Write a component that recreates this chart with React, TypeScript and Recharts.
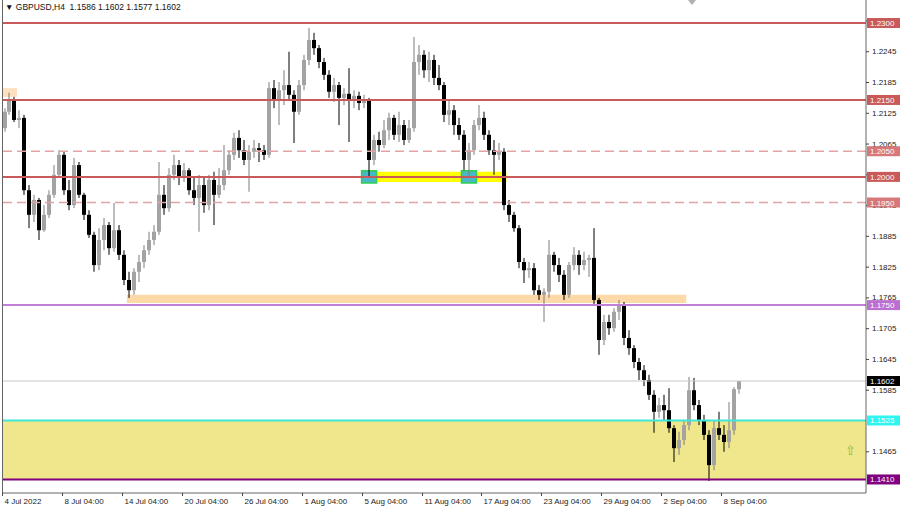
import { ComposedChart, Bar, XAxis, YAxis, ReferenceLine, ReferenceArea } from 'recharts';

// GBPUSD, one candle per two H4 bars, 4 Jul – 8 Sep 2022
const open = [
  1.2095, 1.2127, 1.2150, 1.2111, 1.2115, 1.1974, 1.1926, 1.1955, 1.1896, 1.1926,
  1.1965, 1.2004, 1.2043, 1.1974, 1.1945, 1.2023, 1.1965, 1.1926, 1.1887, 1.1828,
  1.1877, 1.1906, 1.1861, 1.1896, 1.1848, 1.1799, 1.1779, 1.1815, 1.1834, 1.1857,
  1.1877, 1.1893, 1.1965, 1.1939, 1.2004, 1.2023, 1.1998, 1.2013, 1.1974, 1.1959,
  1.1984, 1.1945, 1.1994, 1.1965, 1.1984, 1.2013, 1.2043, 1.2076, 1.2052, 1.2033,
  1.2049, 1.2056, 1.2052, 1.2043, 1.2173, 1.2150, 1.2169, 1.2179, 1.2160, 1.2127,
  1.2179, 1.2228, 1.2267, 1.2251, 1.2224, 1.2199, 1.2166, 1.2179, 1.2154, 1.2162,
  1.2150, 1.2158, 1.2144, 1.2150, 1.2033, 1.2072, 1.2062, 1.2091, 1.2115, 1.2082,
  1.2101, 1.2072, 1.2095, 1.2224, 1.2238, 1.2208, 1.2228, 1.2193, 1.2179, 1.2121,
  1.2130, 1.2101, 1.2082, 1.2033, 1.2052, 1.2101, 1.2115, 1.2082, 1.2052, 1.2043,
  1.2049, 1.1945, 1.1926, 1.1900, 1.1834, 1.1818, 1.1822, 1.1779, 1.1770, 1.1776,
  1.1848, 1.1828, 1.1809, 1.1770, 1.1828, 1.1848, 1.1828, 1.1838, 1.1842, 1.1760,
  1.1682, 1.1717, 1.1705, 1.1737, 1.1750, 1.1686, 1.1666, 1.1639, 1.1623, 1.1604,
  1.1575, 1.1542, 1.1555, 1.1545, 1.1510, 1.1471, 1.1487, 1.1516, 1.1584, 1.1555,
  1.1526, 1.1497, 1.1438, 1.1510, 1.1497, 1.1483, 1.1506, 1.1586,
];
const high = [
  1.2134, 1.2164, 1.2156, 1.2130, 1.2121, 1.1984, 1.1965, 1.1959, 1.1945, 1.1974,
  1.2023, 1.2052, 1.2049, 1.1994, 1.2037, 1.2029, 1.1969, 1.1935, 1.1893, 1.1900,
  1.1920, 1.1912, 1.1949, 1.1906, 1.1857, 1.1815, 1.1822, 1.1848, 1.1867, 1.1893,
  1.1906, 1.2029, 1.1984, 1.2017, 1.2043, 1.2033, 1.2027, 1.2017, 1.1998, 1.2004,
  1.1998, 1.2004, 1.2010, 1.2017, 1.2062, 1.2052, 1.2086, 1.2091, 1.2072, 1.2062,
  1.2072, 1.2066, 1.2062, 1.2185, 1.2189, 1.2185, 1.2208, 1.2244, 1.2169, 1.2189,
  1.2238, 1.2290, 1.2281, 1.2257, 1.2232, 1.2208, 1.2193, 1.2185, 1.2173, 1.2212,
  1.2169, 1.2166, 1.2160, 1.2154, 1.2082, 1.2088, 1.2111, 1.2125, 1.2121, 1.2127,
  1.2111, 1.2111, 1.2273, 1.2257, 1.2247, 1.2244, 1.2238, 1.2218, 1.2185, 1.2150,
  1.2140, 1.2115, 1.2091, 1.2066, 1.2111, 1.2140, 1.2127, 1.2091, 1.2072, 1.2066,
  1.2056, 1.1955, 1.1932, 1.1906, 1.1842, 1.1834, 1.1832, 1.1789, 1.1783, 1.1877,
  1.1854, 1.1842, 1.1818, 1.1834, 1.1863, 1.1857, 1.1854, 1.1848, 1.1900, 1.1764,
  1.1731, 1.1731, 1.1744, 1.1760, 1.1756, 1.1701, 1.1672, 1.1647, 1.1633, 1.1614,
  1.1584, 1.1569, 1.1575, 1.1588, 1.1516, 1.1503, 1.1526, 1.1610, 1.1608, 1.1565,
  1.1536, 1.1506, 1.1526, 1.1542, 1.1516, 1.1561, 1.1590, 1.1602,
];
const low = [
  1.2088, 1.2121, 1.2107, 1.2095, 1.1965, 1.1900, 1.1912, 1.1877, 1.1893, 1.1920,
  1.1959, 1.1998, 1.1965, 1.1935, 1.1939, 1.1959, 1.1916, 1.1881, 1.1815, 1.1818,
  1.1857, 1.1848, 1.1854, 1.1838, 1.1789, 1.1764, 1.1770, 1.1795, 1.1822, 1.1848,
  1.1867, 1.1887, 1.1926, 1.1932, 1.1994, 1.1984, 1.1990, 1.1965, 1.1945, 1.1893,
  1.1930, 1.1935, 1.1906, 1.1959, 1.1974, 1.2004, 1.2033, 1.2037, 1.2023, 1.1971,
  1.2037, 1.2029, 1.2033, 1.2037, 1.2134, 1.2101, 1.2140, 1.2150, 1.2066, 1.2121,
  1.2169, 1.2218, 1.2238, 1.2212, 1.2189, 1.2154, 1.2146, 1.2101, 1.2140, 1.2068,
  1.2134, 1.2130, 1.2134, 1.2000, 1.2023, 1.2049, 1.2056, 1.2072, 1.2072, 1.2068,
  1.2062, 1.2066, 1.2088, 1.2199, 1.2193, 1.2185, 1.2179, 1.2169, 1.2107, 1.2101,
  1.2082, 1.2072, 1.2013, 1.2001, 1.2043, 1.2091, 1.2072, 1.2043, 1.2004, 1.2033,
  1.1935, 1.1912, 1.1893, 1.1822, 1.1793, 1.1803, 1.1770, 1.1760, 1.1717, 1.1764,
  1.1815, 1.1795, 1.1760, 1.1764, 1.1818, 1.1809, 1.1818, 1.1805, 1.1750, 1.1653,
  1.1672, 1.1692, 1.1698, 1.1721, 1.1672, 1.1653, 1.1627, 1.1604, 1.1592, 1.1565,
  1.1501, 1.1530, 1.1526, 1.1501, 1.1444, 1.1458, 1.1477, 1.1506, 1.1545, 1.1516,
  1.1487, 1.1407, 1.1428, 1.1487, 1.1464, 1.1471, 1.1497, 1.1577,
];
const close = [
  1.2127, 1.2150, 1.2111, 1.2115, 1.1974, 1.1926, 1.1955, 1.1896, 1.1926, 1.1965,
  1.2004, 1.2043, 1.1974, 1.1945, 1.2023, 1.1965, 1.1926, 1.1887, 1.1828, 1.1877,
  1.1906, 1.1861, 1.1896, 1.1848, 1.1799, 1.1779, 1.1815, 1.1834, 1.1857, 1.1877,
  1.1893, 1.1965, 1.1939, 1.2004, 1.2023, 1.1998, 1.2013, 1.1974, 1.1959, 1.1984,
  1.1945, 1.1994, 1.1965, 1.1984, 1.2013, 1.2043, 1.2076, 1.2052, 1.2033, 1.2049,
  1.2056, 1.2052, 1.2043, 1.2173, 1.2150, 1.2169, 1.2179, 1.2160, 1.2127, 1.2179,
  1.2228, 1.2267, 1.2251, 1.2224, 1.2199, 1.2166, 1.2179, 1.2154, 1.2162, 1.2150,
  1.2158, 1.2144, 1.2150, 1.2033, 1.2072, 1.2062, 1.2091, 1.2115, 1.2082, 1.2101,
  1.2072, 1.2095, 1.2224, 1.2238, 1.2208, 1.2228, 1.2193, 1.2179, 1.2121, 1.2130,
  1.2101, 1.2082, 1.2033, 1.2052, 1.2101, 1.2115, 1.2082, 1.2052, 1.2043, 1.2049,
  1.1945, 1.1926, 1.1900, 1.1834, 1.1818, 1.1822, 1.1779, 1.1770, 1.1776, 1.1848,
  1.1828, 1.1809, 1.1770, 1.1828, 1.1848, 1.1828, 1.1838, 1.1842, 1.1760, 1.1682,
  1.1717, 1.1705, 1.1737, 1.1750, 1.1686, 1.1666, 1.1639, 1.1623, 1.1604, 1.1575,
  1.1542, 1.1555, 1.1545, 1.1510, 1.1471, 1.1487, 1.1516, 1.1584, 1.1555, 1.1526,
  1.1497, 1.1438, 1.1510, 1.1497, 1.1483, 1.1506, 1.1586, 1.1602,
];

const dateLabels = [
  '4 Jul 2022', '8 Jul 04:00', '14 Jul 04:00', '20 Jul 04:00', '26 Jul 04:00', '1 Aug 04:00',
  '5 Aug 04:00', '11 Aug 04:00', '17 Aug 04:00', '23 Aug 04:00', '29 Aug 04:00', '2 Sep 04:00',
  '8 Sep 04:00',
];
const priceTicks = [
  1.2305, 1.2245, 1.2185, 1.2125, 1.2065, 1.2005, 1.1945, 1.1885, 1.1825, 1.1765,
  1.1705, 1.1645, 1.1585, 1.1465,
];
const solidLevels = [1.23, 1.215, 1.2];
const dashedLevels = [1.205, 1.195];
const supportLevel = 1.175;
const zoneTop = 1.1525;
const zoneBottom = 1.141;
const lastPrice = 1.1602;
const tagValues = [1.23, 1.215, 1.205, 1.2, 1.195, 1.175, 1.1602, 1.1525, 1.141];

const SLOTS = 173;
const LABEL_EVERY = 12;

const RED = '#c85a5a';
const tagColors: Record<string, { bg: string; fg: string }> = {
  '1.2300': { bg: RED, fg: '#fff' },
  '1.2150': { bg: RED, fg: '#fff' },
  '1.2050': { bg: '#d77878', fg: '#fff' },
  '1.2000': { bg: RED, fg: '#fff' },
  '1.1950': { bg: '#d77878', fg: '#fff' },
  '1.1750': { bg: '#bb6fd0', fg: '#fff' },
  '1.1602': { bg: '#000', fg: '#fff' },
  '1.1525': { bg: '#2ff5ee', fg: '#fff' },
  '1.1410': { bg: '#800080', fg: '#fff' },
};

const rows = Array.from({ length: SLOTS }, (_, i) =>
  i < close.length
    ? { i, o: open[i], h: high[i], l: low[i], c: close[i], range: [low[i], high[i]] }
    : { i }
);

function Candle(props: any) {
  const { x, y, width, height, payload } = props;
  if (!payload || payload.c == null || !isFinite(y) || !isFinite(height)) return null;
  const { o, h, l, c } = payload;
  const top = Math.min(y, y + height);
  const bottom = Math.max(y, y + height);
  const k = h > l ? (bottom - top) / (h - l) : 0;
  const py = (v: number) => top + (h - v) * k;
  const left = Math.round(x + width / 2 - 2);
  const up = c >= o;
  const bt = py(Math.max(o, c));
  const bb = py(Math.min(o, c));
  return (
    <g>
      <line x1={left + 2} x2={left + 2} y1={top} y2={bottom} stroke={up ? '#7d7d7d' : '#000'} strokeWidth={1} />
      <rect x={left} y={bt} width={4} height={Math.max(1, bb - bt)} fill={up ? '#a3a3a3' : '#000'} />
    </g>
  );
}

function DateTick(props: any) {
  const { x, y, payload } = props;
  const i = Number(payload.value);
  if (i % LABEL_EVERY !== 0 || i / LABEL_EVERY >= dateLabels.length) return null;
  const tx = Math.round(x - 2.5) + 0.5;
  const axisY = y - 5;
  return (
    <g>
      <line x1={tx} x2={tx} y1={axisY} y2={axisY + 3} stroke="#444" />
      <text x={tx + 2} y={axisY + 11} fontSize={8} fill="#222" textAnchor="start">
        {dateLabels[i / LABEL_EVERY]}
      </text>
    </g>
  );
}

function PriceTick(props: any) {
  const { x, y, payload } = props;
  const label = Number(payload.value).toFixed(4);
  const axisX = x - 6;
  const tag = tagColors[label];
  if (tag) {
    return (
      <g>
        <rect x={axisX + 1} y={y - 5} width={34} height={10} fill={tag.bg} />
        <text x={axisX + 4} y={y + 3} fontSize={8} fill={tag.fg} textAnchor="start">{label}</text>
      </g>
    );
  }
  return (
    <g>
      <line x1={axisX} x2={axisX + 3} y1={y + 0.5} y2={y + 0.5} stroke="#444" />
      <text x={axisX + 6} y={y + 3} fontSize={8} fill="#222" textAnchor="start">{label}</text>
    </g>
  );
}

export default function App() {
  return (
    <div
      style={{
        position: 'absolute', left: 0, top: 0, width: 900, height: 507, background: '#fff',
        fontFamily: '"Liberation Sans", Arial, sans-serif',
      }}
    >
      <ComposedChart
        width={900}
        height={507}
        data={rows}
        margin={{ top: 0, right: 0, bottom: 0, left: 2 }}
        barCategoryGap={0}
      >
        <XAxis
          dataKey="i"
          type="category"
          interval={0}
          tick={<DateTick />}
          tickLine={false}
          tickSize={3}
          tickMargin={2}
          height={14}
          axisLine={{ stroke: '#666' }}
        />
        <YAxis
          orientation="right"
          type="number"
          width={34}
          domain={[1.13836, 1.23449]}
          allowDataOverflow
          ticks={[...priceTicks, ...tagValues]}
          interval={0}
          tick={<PriceTick />}
          tickLine={false}
          tickSize={3}
          tickMargin={3}
          axisLine={{ stroke: '#666' }}
        />

        <ReferenceArea
          y1={zoneBottom}
          y2={zoneTop}
          fill="#f0e68c"
          fillOpacity={1}
          stroke="none"
          label={{ value: '⇧', position: 'insideRight', offset: 10, fill: '#7cc242', fontSize: 13 }}
        />
        <ReferenceArea x1={25} x2={136} y1={1.1754} y2={1.1770} fill="#fdd9a8" fillOpacity={1} stroke="none" />
        <ReferenceArea x1={0} x2={2} y1={1.2156} y2={1.2173} fill="#fde0bd" fillOpacity={1} stroke="none" />
        <ReferenceArea x1={72} x2={100} y1={1.1990} y2={1.2010} fill="#ffff00" fillOpacity={1} stroke="none" />

        {dashedLevels.map((v) => (
          <ReferenceLine key={v} y={v} stroke="#e2a3a3" strokeWidth={1.5} strokeDasharray="9 5" />
        ))}
        {solidLevels.map((v) => (
          <ReferenceLine key={v} y={v} stroke={RED} strokeWidth={2} />
        ))}
        <ReferenceLine y={supportLevel} stroke="#c27fd8" strokeWidth={2} />
        <ReferenceLine y={lastPrice} stroke="#c8c8c8" strokeWidth={1} />
        <ReferenceLine y={zoneTop} stroke="#3ee6d6" strokeWidth={2} />
        <ReferenceLine y={zoneBottom} stroke="#800080" strokeWidth={2} />

        <ReferenceArea x1={72} x2={74} y1={1.1988} y2={1.2012} fill="#48b8c8" fillOpacity={1} stroke="#2fcf4f" strokeWidth={1.5} />
        <ReferenceArea x1={92} x2={94} y1={1.1988} y2={1.2012} fill="#48b8c8" fillOpacity={1} stroke="#2fcf4f" strokeWidth={1.5} />

        <Bar dataKey="range" shape={<Candle />} isAnimationActive={false} />
      </ComposedChart>
      <div style={{ position: 'absolute', left: 2, top: 0, width: 1, height: 493, background: '#666' }} />
      <div style={{ position: 'absolute', left: 5, top: 2, fontSize: 8.5, color: '#111', whiteSpace: 'pre' }}>
        ▼ GBPUSD,H4  1.1586 1.1602 1.1577 1.1602
      </div>
      <svg style={{ position: 'absolute', left: 688, top: 0 }} width={9} height={6}>
        <polygon points="0,0 8,0 4,5" fill="#b0b0b0" />
      </svg>
    </div>
  );
}
